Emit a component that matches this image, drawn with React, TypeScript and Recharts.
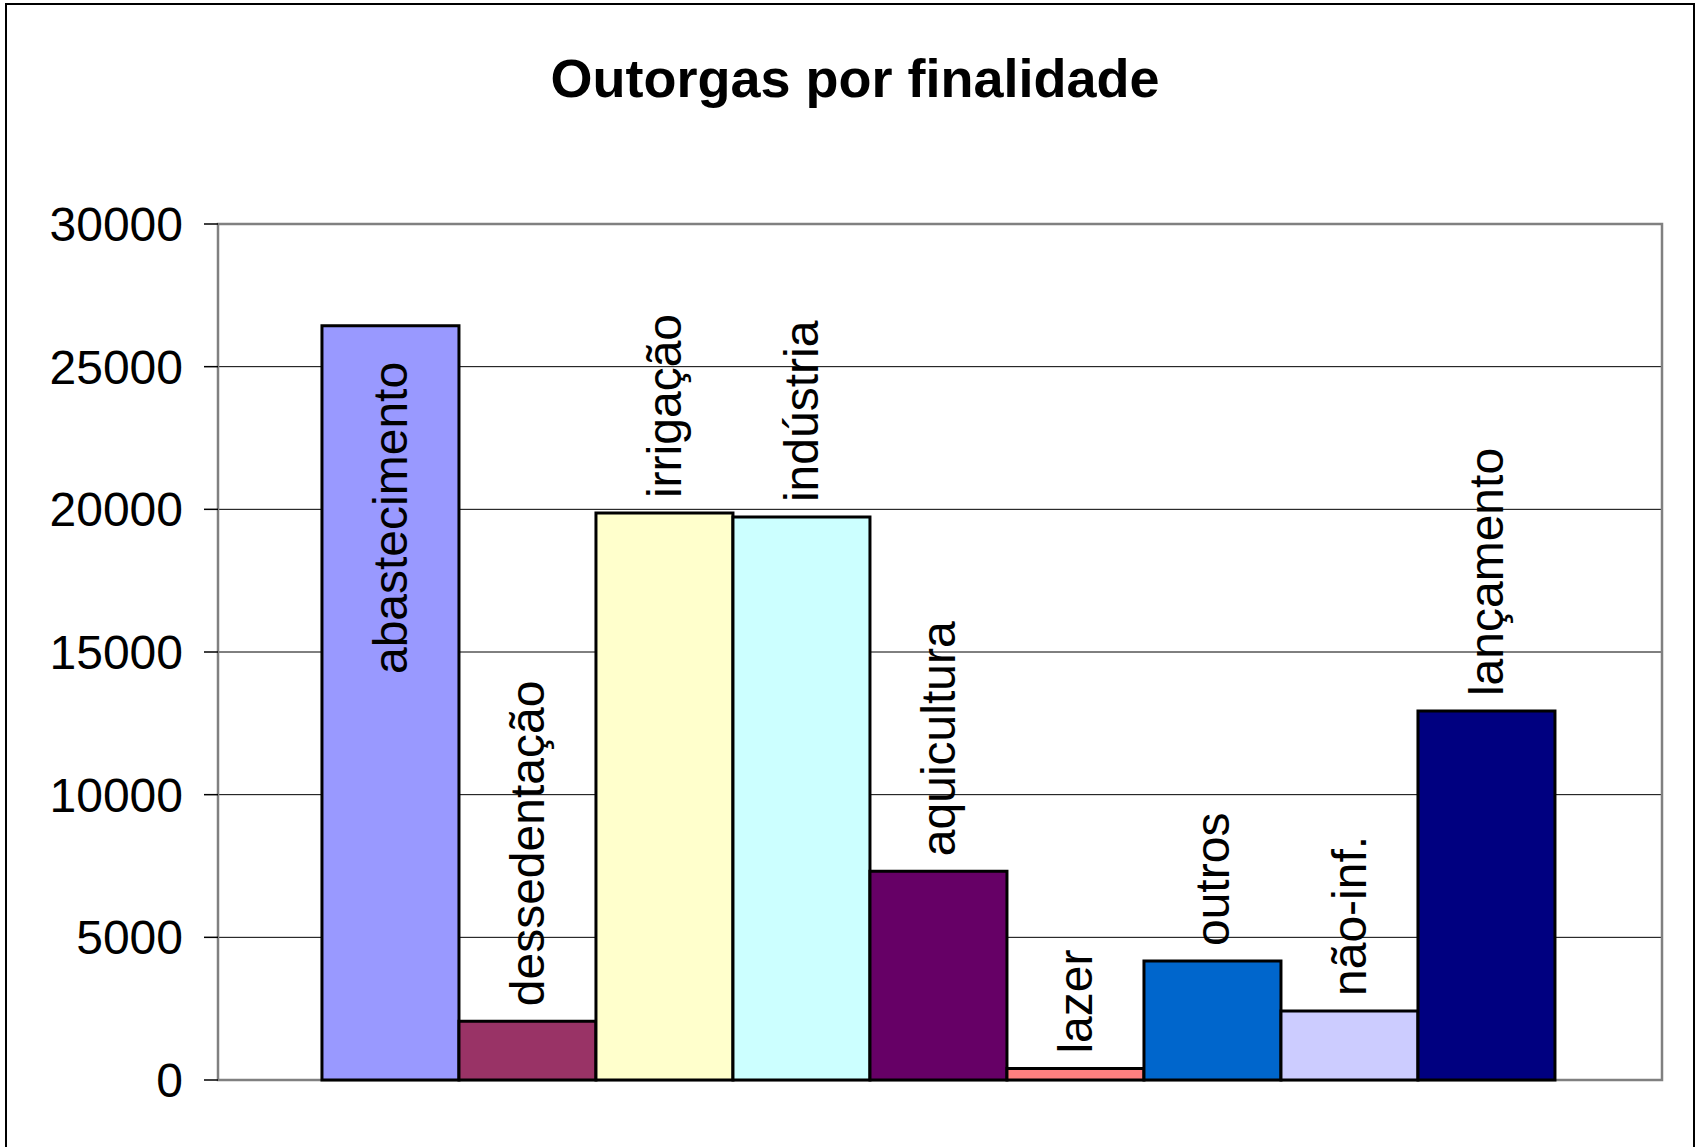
import React from 'react';
import { BarChart, Bar, XAxis, YAxis, CartesianGrid, ReferenceArea } from 'recharts';

const categories = [
  'abastecimento',
  'dessedentação',
  'irrigação',
  'indústria',
  'aquicultura',
  'lazer',
  'outros',
  'não-inf.',
  'lançamento',
];
const values = [26430, 2060, 19870, 19730, 7320, 400, 4170, 2420, 12930];
const colors = [
  '#9999FF',
  '#993366',
  '#FFFFCC',
  '#CCFFFF',
  '#660066',
  '#FF8080',
  '#0066CC',
  '#CCCCFF',
  '#000080',
];
const labelInside = [true, false, false, false, false, false, false, false, false];
const yTicks = [0, 5000, 10000, 15000, 20000, 25000, 30000];
const title = 'Outorgas por finalidade';

const FONT = '"Liberation Sans", Arial, sans-serif';

const row: Record<string, number | string> = { name: 'Outorgas' };
categories.forEach((c, i) => {
  row['s' + i] = values[i];
});
const data = [row];

function makeLabel(text: string, inside: boolean) {
  return (props: any) => {
    const x = Number(props.x);
    const y = Number(props.y);
    const w = Number(props.width);
    const cx = x + w / 2;
    const ty = inside ? y + 36 : y - 15;
    return (
      <text
        x={cx}
        y={ty}
        transform={`rotate(-90 ${cx} ${ty})`}
        textAnchor={inside ? 'end' : 'start'}
        dominantBaseline="central"
        fontSize={48}
        fontFamily={FONT}
        fill="#000"
      >
        {text}
      </text>
    );
  };
}

export default function App() {
  return (
    <div
      style={{
        position: 'absolute',
        left: 0,
        top: 0,
        width: 1695,
        height: 1147,
        overflow: 'hidden',
        background: '#fff',
      }}
    >
      <div
        style={{
          position: 'absolute',
          left: 5,
          top: 3,
          width: 1686,
          height: 1300,
          border: '2px solid #000',
        }}
      />
      <div
        style={{
          position: 'absolute',
          left: 355,
          top: 51,
          width: 1000,
          textAlign: 'center',
          fontFamily: FONT,
          fontWeight: 'bold',
          fontSize: 54,
          lineHeight: '54px',
          color: '#000',
        }}
      >
        {title}
      </div>
      <div style={{ position: 'absolute', left: 0, top: 0 }}>
        <BarChart
          width={1695}
          height={1147}
          data={data}
          margin={{ top: 224, right: 33, bottom: 67, left: 0 }}
          barCategoryGap="7.2%"
          barGap={0}
        >
          <CartesianGrid horizontal vertical={false} stroke="#000" strokeWidth={1} />
          <XAxis dataKey="name" hide />
          <YAxis
            width={218}
            domain={[0, 30000]}
            ticks={yTicks}
            interval={0}
            axisLine={false}
            tickLine={{ stroke: '#000', strokeWidth: 1.5 }}
            tickSize={14}
            tickMargin={21}
            tick={{ fontSize: 48, fontFamily: FONT, fill: '#000' }}
          />
          <ReferenceArea
            y1={0}
            y2={30000}
            fill="none"
            stroke="#808080"
            strokeWidth={2.5}
            ifOverflow="visible"
          />
          {categories.map((c, i) => (
            <Bar
              key={c}
              dataKey={'s' + i}
              name={c}
              fill={colors[i]}
              stroke="#000"
              strokeWidth={3}
              isAnimationActive={false}
              label={makeLabel(c, labelInside[i])}
            />
          ))}
        </BarChart>
      </div>
    </div>
  );
}
